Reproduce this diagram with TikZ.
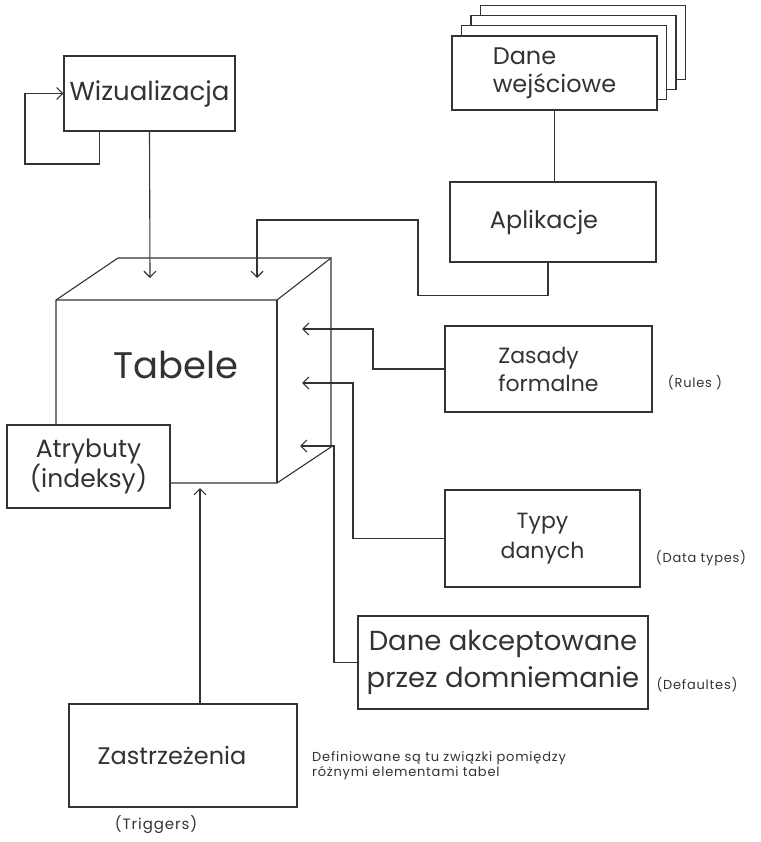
\documentclass[tikz,border=0pt]{standalone}
\usepackage{fontspec}
\setmainfont{Poppins}
\usetikzlibrary{arrows.meta}
\definecolor{ink}{gray}{0.2}
\tikzset{
  box/.style={draw=ink, line width=1.1pt, fill=white, inner sep=0pt, text=ink, align=center},
  ln/.style={draw=ink, line width=1.1pt},
  arr/.style={ln, -{Straight Barb[length=6pt,width=12pt]}},
  note/.style={text=ink, inner sep=0pt, align=left},
  small/.style={note, font=\fontsize{13}{13}\selectfont\addfontfeatures{LetterSpace=6}},
}
\begin{document}
\begin{tikzpicture}[x=1pt,y=-1pt]
\useasboundingbox (0,0) rectangle (760,842);

% kostka
\draw[ln] (56,425) -- (56,300) -- (118,258) -- (331,258) -- (331,447) -- (277,483) -- (170,483);
\draw[ln] (56,300) -- (277,300) -- (331,258);
\draw[ln] (277,300) -- (277,483);
\node[note, font=\fontsize{37}{40}\selectfont] (tab) at (176,365) {Tabele};

\node[box, minimum width=163pt, minimum height=83pt, font=\fontsize{25}{28}\selectfont] (atr) at (88.5,466.5) {Atrybuty\\(indeksy)};

\node[box, minimum width=171pt, minimum height=75pt, font=\fontsize{26}{30}\selectfont] (wiz) at (149.5,93.5) {Wizualizacja};

\foreach \k in {3,2,1}
  \node[box, minimum width=205pt, minimum height=74pt, xshift=\k*9.5pt, yshift=\k*10.3pt] at (554.5,73) {};
\node[box, minimum width=205pt, minimum height=74pt, font=\fontsize{24}{28}\selectfont, align=left] (dane) at (554.5,73) {Dane\\wejściowe};
\node[box, minimum width=206pt, minimum height=80pt, font=\fontsize{24}{28}\selectfont] (apl) at (553,222) {\hspace*{-18pt}Aplikacje};

\node[box, minimum width=207pt, minimum height=86pt, font=\fontsize{22}{28}\selectfont, align=left] (rul) at (548.5,369) {Zasady\\formalne};
\node[box, minimum width=195pt, minimum height=97pt, font=\fontsize{22}{30}\selectfont] (typ) at (542.5,538.5) {Typy\\danych};
\node[box, minimum width=290pt, minimum height=93pt, font=\fontsize{27.5}{37}\selectfont] (def) at (503,662.5) {Dane akceptowane\\przez domniemanie};
\node[box, minimum width=228pt, minimum height=103pt, font=\fontsize{24}{28}\selectfont] (zas) at (183,755.5) {\hspace*{-22pt}Zastrzeżenia};

\node[small] (rulx) at (695,383) {(Rules )};
\node[small] (typx) at (701,558) {(Data types)};
\node[small] (defx) at (697,685) {(Defaultes)};
\node[small, font=\fontsize{15}{15}\selectfont\addfontfeatures{LetterSpace=6}] (zasx) at (156,825) {(Triggers)};
\node[small, anchor=west] (opis) at (312,766) {Definiowane są tu związki pomiędzy\\różnymi elementami tabel};

\coordinate (t1) at (150,278);
\coordinate (t2) at (257,278);
\coordinate (r1) at (302,329);
\coordinate (r2) at (302,383);
\coordinate (r3) at (300,446);
\coordinate (ta) at (200,488);
\coordinate (wloop) at (25,164);

\draw[arr] ([xshift=-50pt]wiz.south) |- (wloop) |- (wiz.west);
\draw[arr] (wiz.south) -- (t1);
\draw[ln] (dane.south) -- (dane.south |- apl.north);
\draw[arr] ([xshift=-5pt]apl.south) -- ++(0,33) -| (418,220) -| (t2);
\draw[arr] (rul.west) -| ([xshift=71pt]r1) -- (r1);
\draw[arr] (typ.west) -| ([xshift=51pt]r2) -- (r2);
\draw[arr] (def.west) -| ([xshift=34pt]r3) -- (r3);
\draw[arr] (zas.north -| ta) -- (ta);
\end{tikzpicture}
\end{document}
